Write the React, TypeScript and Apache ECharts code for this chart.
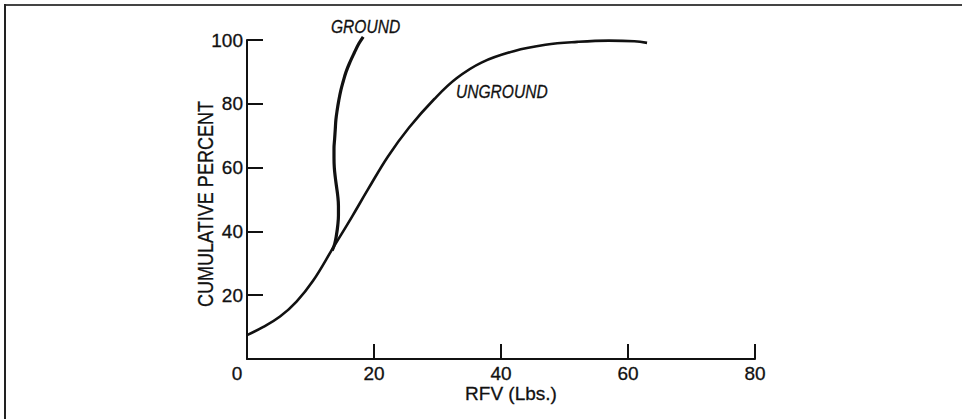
import React, { useEffect, useRef } from "react";
import * as echarts from "echarts";

const xTicks = [0, 20, 40, 60, 80];
const yTicks = [0, 20, 40, 60, 80, 100];

// UNGROUND cumulative percent curve (RFV lbs, percent)
const ungroundRFV = [0, 2.5, 5.2, 7.8, 10.4, 13.6, 16.5, 19, 22.2, 25.5, 29.5, 33, 37, 42, 47, 52, 57, 61, 63];
const ungroundPct = [7.5, 10, 13.3, 18, 24.5, 35, 44.5, 53, 63.5, 72.5, 81.5, 88, 93, 96.5, 98.5, 99.4, 99.8, 99.6, 99.1];

// GROUND cumulative percent curve
const groundRFV = [13.4, 13.8, 14.1, 14.3, 14.4, 14.4, 14.3, 14.1, 13.9, 13.75, 13.7, 13.7, 13.8, 13.9, 14.0, 14.2, 14.45, 14.75, 15.15, 15.6, 16.2, 16.9, 17.6, 18.3];
const groundPct = [34, 36, 39, 42, 45, 48, 51, 54, 57, 60, 63, 66, 69, 72, 75, 78, 81, 84, 87, 90, 93, 96, 98.8, 101];

const FONT = "'Liberation Sans', Arial, Helvetica, sans-serif";
const INK = "#111";

export default function App() {
  const ref = useRef<HTMLDivElement>(null);

  useEffect(() => {
    if (!ref.current) return;
    const chart = echarts.init(ref.current, null, { renderer: "svg" });
    const zip = (xs: number[], ys: number[]) => xs.map((x, i) => [x, ys[i]]);

    const heavy = { textBorderColor: INK, textBorderWidth: 0.3 };

    chart.setOption({
      animation: false,
      backgroundColor: "#ffffff",
      grid: { left: 247, right: 207, top: 40, bottom: 60, containLabel: false },
      xAxis: {
        type: "value",
        min: xTicks[0],
        max: xTicks[xTicks.length - 1],
        interval: 20,
        axisLine: { show: true, lineStyle: { color: INK, width: 2 } },
        axisTick: { show: true, inside: true, length: 15, lineStyle: { color: INK, width: 2 } },
        splitLine: { show: false },
        axisLabel: {
          show: true,
          margin: 5,
          color: INK,
          fontFamily: FONT,
          fontSize: 19,
          ...heavy,
          formatter: (v: number) => (v === 0 ? "{z|0}" : String(v)),
          rich: {
            z: { padding: [0, 20, 0, 0], fontFamily: FONT, fontSize: 19, color: INK, ...heavy },
          },
        },
      },
      yAxis: {
        type: "value",
        min: yTicks[0],
        max: yTicks[yTicks.length - 1],
        interval: 20,
        axisLine: { show: true, lineStyle: { color: INK, width: 2 } },
        axisTick: { show: true, inside: true, length: 16, lineStyle: { color: INK, width: 2 } },
        splitLine: { show: false },
        axisLabel: {
          show: true,
          margin: 4,
          color: INK,
          fontFamily: FONT,
          fontSize: 19,
          ...heavy,
          formatter: (v: number) => (v === 0 ? "" : String(v)),
        },
      },
      series: [
        {
          type: "line",
          name: "UNGROUND",
          data: zip(ungroundRFV, ungroundPct),
          smooth: 0.4,
          showSymbol: false,
          symbol: "none",
          clip: false,
          lineStyle: { color: INK, width: 2.6 },
        },
        {
          type: "line",
          name: "GROUND",
          data: zip(groundRFV, groundPct),
          smooth: 0.4,
          showSymbol: false,
          symbol: "none",
          clip: false,
          lineStyle: { color: INK, width: 3.2 },
        },
      ],
      graphic: [
        {
          type: "line",
          shape: { x1: 4, y1: 5, x2: 962, y2: 5 },
          style: { stroke: "#444", lineWidth: 2 },
        },
        {
          type: "line",
          shape: { x1: 5, y1: 4, x2: 5, y2: 419 },
          style: { stroke: "#222", lineWidth: 2 },
        },
        {
          type: "text",
          x: 205,
          y: 204,
          rotation: Math.PI / 2,
          scaleX: 0.82,
          style: {
            text: "CUMULATIVE PERCENT",
            fontFamily: FONT,
            fontSize: 22,
            fill: INK,
            stroke: INK,
            lineWidth: 0.3,
            textAlign: "center",
            textVerticalAlign: "middle",
          },
        },
        {
          type: "text",
          x: 511,
          y: 393,
          style: {
            text: "RFV (Lbs.)",
            fontFamily: FONT,
            fontSize: 19,
            fill: INK,
            stroke: INK,
            lineWidth: 0.3,
            textAlign: "center",
            textVerticalAlign: "middle",
          },
        },
        {
          type: "text",
          x: 331,
          y: 26.7,
          scaleX: 0.82,
          style: {
            text: "GROUND",
            fontFamily: FONT,
            fontSize: 19,
            fontStyle: "italic",
            fill: INK,
            stroke: INK,
            lineWidth: 0.3,
            textAlign: "left",
            textVerticalAlign: "middle",
          },
        },
        {
          type: "text",
          x: 456,
          y: 91.7,
          scaleX: 0.82,
          style: {
            text: "UNGROUND",
            fontFamily: FONT,
            fontSize: 19,
            fontStyle: "italic",
            fill: INK,
            stroke: INK,
            lineWidth: 0.3,
            textAlign: "left",
            textVerticalAlign: "middle",
          },
        },
      ],
    });

    return () => chart.dispose();
  }, []);

  return (
    <div
      ref={ref}
      style={{ position: "fixed", left: 0, top: 0, width: 962, height: 419, background: "#fff" }}
    />
  );
}
